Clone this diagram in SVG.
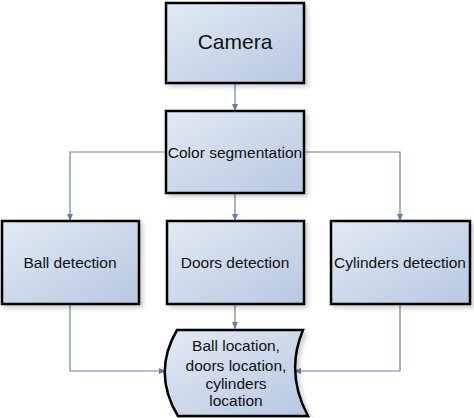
<svg xmlns="http://www.w3.org/2000/svg" width="474" height="418" viewBox="0 0 474 418">
<defs>
<linearGradient id="g" x1="0" y1="0" x2="1" y2="1">
<stop offset="0" stop-color="#e2eaf5"/>
<stop offset="1" stop-color="#b6c8e0"/>
</linearGradient>
<marker id="a" markerWidth="8" markerHeight="8" refX="7" refY="4" orient="auto" markerUnits="userSpaceOnUse">
<path d="M0,1 L7,4 L0,7 Z" fill="#5f7fa8"/>
</marker>
<filter id="s" x="-10%" y="-10%" width="130%" height="130%">
<feDropShadow dx="3" dy="3" stdDeviation="2" flood-color="#000" flood-opacity="0.18"/>
</filter>
</defs>
<style>
.box{fill:url(#g);stroke:#000;stroke-width:2.5;filter:url(#s)}
.t{font-family:"Liberation Sans",Arial,sans-serif;fill:#111;text-anchor:middle}
.c{fill:none;stroke:#6783a8;stroke-width:1.2;marker-end:url(#a)}
</style>
<rect width="474" height="418" fill="#fff"/>
<g id="connectors">
<path class="c" d="M235,83 V111"/>
<path class="c" d="M235,193 V221"/>
<path class="c" d="M166,152 H70 V221"/>
<path class="c" d="M304,152 H400 V221"/>
<path class="c" d="M235,304 V329"/>
<path class="c" d="M70,304 V371 H166"/>
<path class="c" d="M400,304 V371 H294"/>
</g>
<g id="camera">
<rect class="box" x="166" y="3" width="138" height="80"/>
<text class="t" x="235" y="49" font-size="21">Camera</text>
</g>
<g id="color-segmentation">
<rect class="box" x="166" y="111" width="138" height="82"/>
<text class="t" x="235" y="158" font-size="15.5">Color segmentation</text>
</g>
<g id="ball-detection">
<rect class="box" x="2" y="221" width="137" height="83"/>
<text class="t" x="70" y="268" font-size="15.5">Ball detection</text>
</g>
<g id="doors-detection">
<rect class="box" x="167" y="221" width="137" height="83"/>
<text class="t" x="235" y="268" font-size="15.5">Doors detection</text>
</g>
<g id="cylinders-detection">
<rect class="box" x="331" y="221" width="139" height="83"/>
<text class="t" x="400" y="268" font-size="15.5">Cylinders detection</text>
</g>
<g id="locations">
<path class="box" d="M177,330 H303 Q285,373 308,416 H178 Q152,373 177,330 Z"/>
<text class="t" font-size="15.5"><tspan x="236" y="350.5">Ball location,</tspan><tspan x="236" y="370.5">doors location,</tspan><tspan x="236" y="388.5">cylinders</tspan><tspan x="236" y="405.5">location</tspan></text>
</g>
</svg>
